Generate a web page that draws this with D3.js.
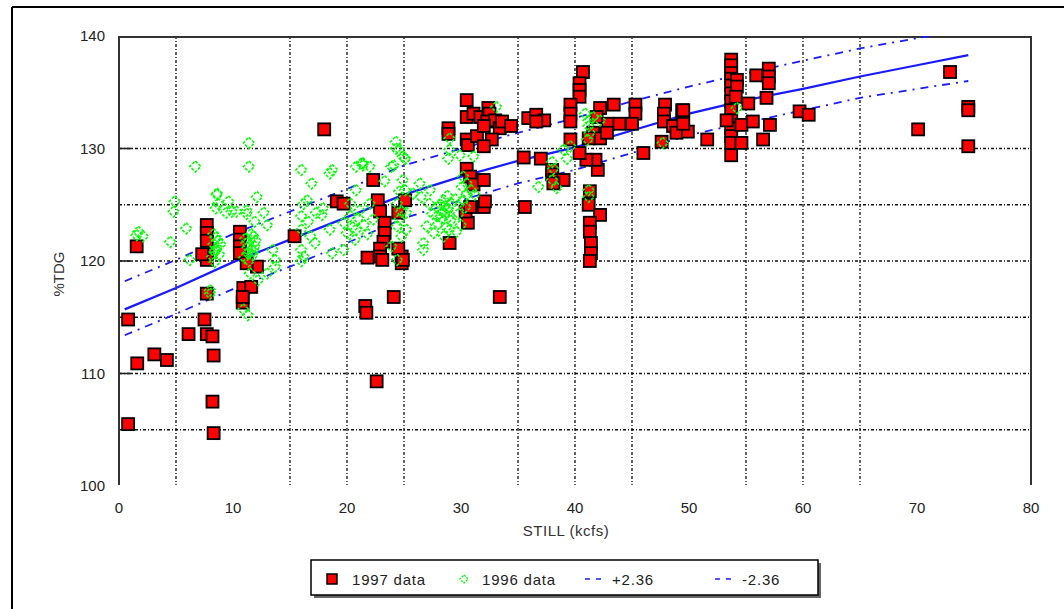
<!DOCTYPE html>
<html><head><meta charset="utf-8">
<script src="https://cdn.jsdelivr.net/npm/d3@7"></script>
<style>
html,body{margin:0;padding:0;background:#fff;}
text{font-family:"Liberation Sans",Arial,sans-serif;}
</style></head>
<body><svg id="c" width="1064" height="609"></svg>
<script>
// ---------- data ----------
const xTicks = [0,10,20,30,40,50,60,70,80];
const yTicks = [100,110,120,130,140];
const xGrid = [5,15,20,25,35,40,45,55,60,65];
const yGrid = [105,110,115,120,125,130];

const x97 = [0.8,0.8,1.6,1.55,3.1,4.2,6.1,7.5,7.7,8.2,8.3,8.2,8.3,7.7,7.7,7.7,7.7,7.7,7.7,7.3,
 10.6,10.6,10.6,10.6,12.1,11.2,10.9,11.6,10.85,10.85,
 15.4,18.0,22.3,19.1,19.7,22.7,22.9,23.3,23.3,23.2,22.9,22.9,21.8,23.1,24.8,24.8,24.5,24.1,21.6,21.7,25.1,22.6,24.5,
 40.7,40.4,40.4,40.4,39.6,39.6,39.6,39.6,
 30.5,30.5,30.5,30.6,28.9,28.9,
 31.1,31.7,32.4,32.5,32.3,33.0,33.4,33.6,34.4,31.4,32.7,32.0,32.0,
 35.9,36.6,37.3,36.6,35.5,37.0,
 38.0,38.0,38.2,39.0,38.1,35.6,
 42.0,41.8,41.0,40.4,
 41.3,41.2,42.2,41.3,41.3,41.4,41.4,41.3,
 29.0,30.6,32.0,32.1,30.5,30.8,31.1,32.0,30.4,30.8,33.4,24.9,
 43.4,42.2,41.9,42.9,43.9,45.3,45.3,45.0,41.6,42.2,42.8,41.2,46.0,
 47.9,47.8,47.8,49.4,49.4,48.6,48.9,49.9,47.6,
 53.7,53.7,53.7,53.7,53.7,53.7,53.7,53.7,53.7,53.7,53.7,53.7,53.7,
 54.2,54.2,54.1,55.2,54.6,55.6,54.6,53.3,
 55.9,57.0,57.0,57.0,56.8,57.1,56.5,
 59.7,60.5,70.1,72.9,74.5,74.5,74.5,49.5,49.5,51.6];
const y97 = [114.8,105.5,110.9,121.3,111.7,111.2,113.5,114.8,113.5,113.3,111.6,107.5,104.7,117.1,123.2,122.5,121.8,120.6,120.1,120.6,
 122.6,121.9,121.3,120.7,119.5,119.8,117.6,117.7,116.3,116.8,
 122.2,131.7,127.2,125.3,125.1,125.4,124.4,123.4,122.5,121.7,121.1,120.4,120.3,120.1,120.4,119.8,121.1,116.8,116.0,115.4,125.4,109.3,124.3,
 136.8,135.8,135.2,134.6,133.9,133.1,132.4,130.8,
 134.3,132.8,130.8,130.3,131.8,131.3,
 133.1,132.8,133.6,133.1,132.4,132.5,131.8,132.4,132.0,131.1,130.8,130.2,132.0,
 132.7,133.0,132.5,132.4,129.2,129.1,
 128.1,127.7,127.2,127.2,126.9,124.8,
 128.1,129.0,129.0,129.6,
 126.2,125.0,124.1,123.4,122.6,121.6,120.7,120.0,
 121.6,123.4,124.8,125.3,128.2,127.5,126.8,127.2,124.4,124.8,116.8,120.1,
 133.9,133.6,132.8,132.2,132.2,133.9,133.1,132.2,131.4,130.9,131.4,130.9,129.6,
 133.9,133.1,132.4,133.4,132.2,132.0,131.4,131.5,130.6,
 137.9,137.4,136.7,136.2,135.6,134.9,134.2,133.4,132.5,131.8,131.1,130.5,129.4,
 136.1,135.5,134.6,134.0,132.1,132.4,130.5,132.5,
 136.5,137.1,136.4,135.8,134.5,132.1,130.8,
 133.3,133.0,131.7,136.8,133.7,133.4,130.2,133.4,132.2,130.8];

const x96 = [6.7,11.4,11.4,16.0,18.7,20.8,21.4,23.9,24.3,24.3,25.1,
 4.9,4.8,5.9,1.7,2.1,1.55,4.5,6.2,
 8.6,8.7,8.5,9.6,10.3,9.4,11.2,11.2,8.6,9.9,
 8.2,8.4,8.6,8.3,8.7,8.5,8.3,8.8,8.5,8.9,8.4,
 11.0,11.3,11.6,11.9,11.2,11.5,11.8,11.4,11.7,12.0,11.1,11.6,11.3,11.8,
 12.7,13.0,11.9,13.5,13.7,13.7,13.0,11.5,12.2,11.3,10.9,8.0,8.0,12.1,
 16.9,16.5,16.2,16.0,16.6,16.0,16.8,16.0,16.2,16.0,17.3,17.9,18.5,17.8,18.5,17.2,18.7,19.7,
 19.7,20.3,20.0,20.8,20.7,21.1,21.4,21.3,22.0,23.3,24.1,24.6,24.4,24.8,24.4,24.8,24.9,24.4,23.9,
 20.8,20.3,22.0,22.3,21.5,21.0,20.5,21.8,
 24.6,25.1,24.9,25.1,25.2,24.6,25.2,
 26.4,26.5,25.8,27.3,27.9,
 28.0,28.3,28.6,28.9,28.2,28.5,28.8,29.1,28.4,28.7,29.2,27.9,28.6,29.0,
 27.0,27.6,26.7,26.7,28.5,29.0,
 29.5,29.8,30.0,29.6,27.5,27.2,
 29.0,28.9,29.9,
 30.2,30.5,30.9,30.1,31.2,30.5,30.2,30.4,31.1,33.1,29.0,
 36.8,38.0,38.1,38.0,38.4,39.0,39.3,39.6,
 41.2,41.2,41.3,41.1,41.6,40.9,42.2,41.2,41.2,
 47.7,54.2];
const y96 = [128.4,130.5,128.4,128.1,128.1,128.4,128.7,128.4,130.6,130.0,129.1,
 125.3,124.4,122.9,122.6,122.2,122.3,121.7,120.1,
 125.9,125.1,124.7,125.3,124.4,124.3,124.5,124.2,126.0,124.4,
 120.4,120.8,121.2,121.5,121.8,122.1,122.4,120.6,121.0,121.5,119.9,
 120.3,120.7,121.0,121.3,121.6,121.9,122.2,120.0,120.5,121.8,122.0,122.4,121.2,120.9,
 124.3,123.2,123.5,121.0,120.1,119.5,118.9,118.9,118.3,115.2,115.7,117.4,117.1,125.7,
 126.9,125.4,125.1,124.0,123.5,122.8,122.2,121.0,120.4,120.0,124.3,124.7,127.8,124.1,122.8,121.6,120.7,121.0,
 123.4,124.0,122.5,122.8,121.9,124.5,128.5,128.7,128.4,127.1,128.5,126.2,125.1,124.4,123.1,122.2,129.3,120.1,121.3,
 126.3,125.1,125.1,123.7,123.2,123.8,123.0,122.4,
 129.9,129.1,127.2,126.3,124.3,123.7,122.8,
 126.9,125.7,126.0,126.3,124.8,
 123.3,123.8,124.2,124.6,125.0,125.4,125.8,123.6,124.4,123.0,125.1,124.0,124.9,124.0,
 123.1,122.5,121.6,121.0,122.2,122.8,
 125.5,124.2,123.2,122.6,124.2,125.1,
 129.9,129.1,129.4,
 127.5,126.9,126.3,126.6,125.9,125.9,125.4,124.8,129.3,133.7,130.9,
 126.6,127.2,128.2,128.8,126.5,129.9,129.1,130.2,
 132.5,132.0,131.4,130.8,132.8,133.1,132.5,126.3,125.7,
 130.5,133.6];

const fitX = [0.5,5,10,15,20,25,30,35,40,45,50,55,60,65,70,74.5];
const fitMid = [115.7,117.6,119.9,121.9,123.9,125.9,127.5,128.9,130.1,131.6,133.1,134.3,135.3,136.4,137.4,138.3];
const fitUp  = [118.2,120.1,122.4,124.4,126.4,128.5,130.0,131.4,132.7,134.2,135.5,136.7,137.8,138.9,139.8,140.6];
const fitLow = [113.4,115.3,117.5,119.5,121.6,123.8,125.4,126.9,128.1,129.6,131.2,132.3,133.4,134.5,135.3,136.0];

const legendLabels = ["1997 data","1996 data","+2.36","-2.36"];

// ---------- drawing ----------
const svg = d3.select("#c");
const x = d3.scaleLinear([0,80],[119,1031]);
const y = d3.scaleLinear([100,140],[486,36]);

// outer frame
svg.append("line").attr("x1",12).attr("x2",1064).attr("y1",7).attr("y2",7).attr("stroke","#000").attr("stroke-width",2);
svg.append("line").attr("x1",12).attr("x2",12).attr("y1",7).attr("y2",609).attr("stroke","#000").attr("stroke-width",2);

svg.append("defs").append("clipPath").attr("id","clip")
  .append("rect").attr("x",x(0)).attr("y",y(140)).attr("width",x(80)-x(0)).attr("height",y(100)-y(140));

const grid = svg.append("g");
grid.selectAll("line.v").data(xGrid).join("line")
  .attr("x1",d=>x(d)).attr("x2",d=>x(d)).attr("y1",y(140)).attr("y2",y(100)-1)
  .attr("stroke","#111").attr("stroke-width",1.3).attr("stroke-dasharray","3,2,1,2");
grid.selectAll("line.h").data(yGrid).join("line")
  .attr("x1",x(0)).attr("x2",x(80)).attr("y1",d=>y(d)).attr("y2",d=>y(d))
  .attr("stroke","#111").attr("stroke-width",1.3).attr("stroke-dasharray","3,2,1,2");
// major ticks on left axis
grid.selectAll("line.t").data([110,120,130]).join("line")
  .attr("x1",x(0)).attr("x2",x(0)+13).attr("y1",d=>y(d)).attr("y2",d=>y(d))
  .attr("stroke","#222").attr("stroke-width",1.6);

// plot frame (top, left, right)
svg.append("path").attr("d",`M${x(0)},${y(100)-1}V${y(140)+1}H${x(80)}V${y(100)-1}`)
  .attr("fill","none").attr("stroke","#333").attr("stroke-width",2);

// tick labels
svg.append("g").selectAll("text").data(xTicks).join("text")
  .attr("x",d=>x(d)).attr("y",513).attr("text-anchor","middle")
  .attr("font-size",15).attr("fill","#222").text(d=>d);
svg.append("g").selectAll("text").data(yTicks).join("text")
  .attr("x",105).attr("y",d=>y(d)+5).attr("text-anchor","end")
  .attr("font-size",15).attr("fill","#222").text(d=>d);
svg.append("text").attr("x",566).attr("y",536).attr("text-anchor","middle")
  .attr("font-size",15).attr("fill","#333").attr("letter-spacing",0.5).text("STILL (kcfs)");
svg.append("text").attr("transform","translate(64,274) rotate(-90)").attr("text-anchor","middle")
  .attr("font-size",15).attr("fill","#333").text("%TDG");

// lines
const lineGen = d3.line().x(d=>x(d[0])).y(d=>y(d[1]));
const plot = svg.append("g").attr("clip-path","url(#clip)");
plot.append("path").attr("d",lineGen(fitX.map((v,i)=>[v,fitUp[i]])))
  .attr("fill","none").attr("stroke","#1a1aff").attr("stroke-width",1.8).attr("stroke-dasharray","8,6,2,6");
plot.append("path").attr("d",lineGen(fitX.map((v,i)=>[v,fitLow[i]])))
  .attr("fill","none").attr("stroke","#1a1aff").attr("stroke-width",1.8).attr("stroke-dasharray","8,6,2,6");
plot.append("path").attr("d",lineGen(fitX.map((v,i)=>[v,fitMid[i]])))
  .attr("fill","none").attr("stroke","#1a1aff").attr("stroke-width",2.2);

// red squares
const sq = 12;
plot.append("g").selectAll("rect").data(x97.map((v,i)=>[v,y97[i]])).join("rect")
  .attr("x",d=>x(d[0])-sq/2).attr("y",d=>y(d[1])-sq/2).attr("width",sq).attr("height",sq)
  .attr("fill","#ff0000").attr("stroke","#000").attr("stroke-width",1.8);

// green diamonds
const dia = "M0,-5.5L5.5,0L0,5.5L-5.5,0Z";
plot.append("g").selectAll("path").data(x96.map((v,i)=>[v,y96[i]])).join("path")
  .attr("d",dia).attr("transform",d=>`translate(${x(d[0])},${y(d[1])})`)
  .attr("fill","none").attr("stroke","#00ff00").attr("stroke-width",1.6).attr("stroke-dasharray","3,1.5");

// legend
const lg = svg.append("g");
lg.append("rect").attr("x",314).attr("y",563).attr("width",507).attr("height",35).attr("fill","#666");
lg.append("rect").attr("x",311).attr("y",560).attr("width",507).attr("height",35).attr("fill","#fff").attr("stroke","#000").attr("stroke-width",1.5);
lg.append("rect").attr("x",327).attr("y",574).attr("width",10).attr("height",10).attr("fill","#ff0000").attr("stroke","#000").attr("stroke-width",1.5);
lg.append("path").attr("d",dia).attr("transform","translate(464,579) scale(0.75)")
  .attr("fill","none").attr("stroke","#00ff00").attr("stroke-width",1.6).attr("stroke-dasharray","3,1.5");
lg.append("line").attr("x1",585).attr("x2",601).attr("y1",579).attr("y2",579).attr("stroke","#1a1aff").attr("stroke-width",1.6).attr("stroke-dasharray","5,6");
lg.append("line").attr("x1",715).attr("x2",731).attr("y1",579).attr("y2",579).attr("stroke","#1a1aff").attr("stroke-width",1.6).attr("stroke-dasharray","5,6");
const lgX = [352,482,612,742];
lg.selectAll("text").data(legendLabels).join("text")
  .attr("x",(d,i)=>lgX[i]).attr("y",585).attr("font-size",15).attr("fill","#222").attr("letter-spacing",0.8).text(d=>d);
</script>
</body></html>
